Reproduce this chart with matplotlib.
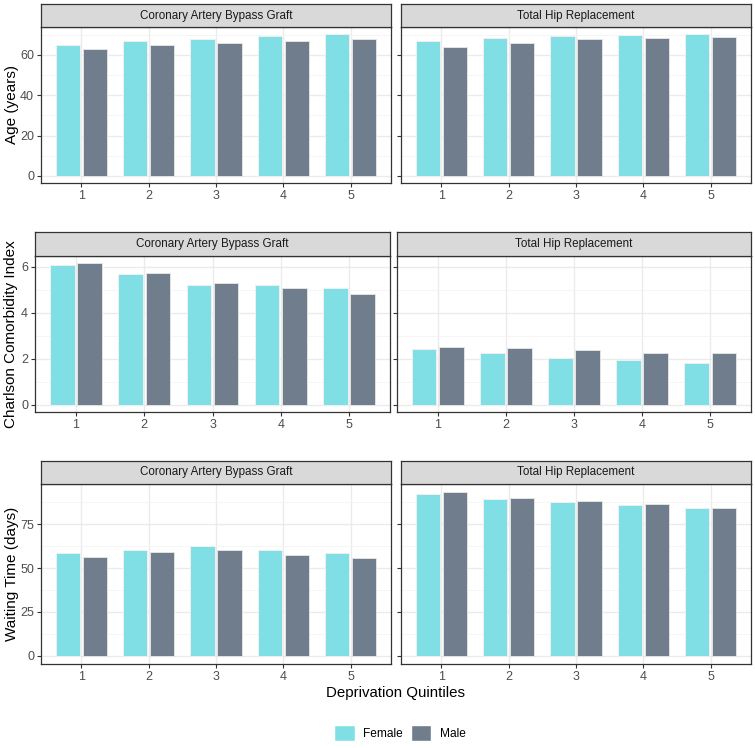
import numpy as np
import matplotlib.pyplot as plt
from matplotlib.patches import Patch

plt.rcParams['font.family'] = ['Liberation Sans', 'DejaVu Sans']

# === DATA ===
quintiles = [1, 2, 3, 4, 5]
procedures = ["Coronary Artery Bypass Graft", "Total Hip Replacement"]

age_cabg_f = [65.0, 67.0, 68.0, 69.3, 70.1]
age_cabg_m = [63.0, 64.9, 66.0, 67.0, 67.7]
age_thr_f = [66.8, 68.3, 69.3, 69.8, 70.3]
age_thr_m = [64.0, 66.0, 67.7, 68.2, 68.8]

cci_cabg_f = [6.10, 5.71, 5.23, 5.20, 5.07]
cci_cabg_m = [6.17, 5.72, 5.32, 5.08, 4.84]
cci_thr_f = [2.44, 2.28, 2.06, 1.96, 1.84]
cci_thr_m = [2.50, 2.48, 2.38, 2.27, 2.24]

wait_cabg_f = [58.3, 60.4, 62.8, 60.0, 58.3]
wait_cabg_m = [56.2, 59.1, 60.2, 57.4, 55.9]
wait_thr_f = [92.0, 89.4, 87.8, 85.8, 84.1]
wait_thr_m = [93.2, 89.8, 88.2, 86.4, 84.4]

# === CONFIG ===
FEMALE = "#7FDFE5"
MALE = "#6F7D8C"
W, H = 755, 748

rows = [
    ("Age (years)", [(age_cabg_f, age_cabg_m), (age_thr_f, age_thr_m)],
     [0, 20, 40, 60], [10, 30, 50, 70]),
    ("Charlson Comorbidity Index", [(cci_cabg_f, cci_cabg_m), (cci_thr_f, cci_thr_m)],
     [0, 2, 4, 6], [1, 3, 5]),
    ("Waiting Time (days)", [(wait_cabg_f, wait_cabg_m), (wait_thr_f, wait_thr_m)],
     [0, 25, 50, 75], [12.5, 37.5, 62.5, 87.5]),
]

# panel boxes in pixels: (left, right) per column, (strip_top, panel_top, panel_bottom) per row
cols_px = [[(41, 391), (401, 751)], [(35, 390), (397, 751)], [(41, 391), (401, 751)]]
rows_px = [(4, 27, 183), (232, 256, 412), (461, 484, 664)]
ylab_x = [12, 11, 12]

fig = plt.figure(figsize=(W / 100, H / 100), dpi=100)


def box(l, t, r, b):
    return [l / W, 1 - b / H, (r - l) / W, (b - t) / H]


x = np.array(quintiles)
bw = 0.36
off = 0.2
for ri, (ylab, data, majors, minors) in enumerate(rows):
    st, pt, pb = rows_px[ri]
    ymax = max(max(f + m) for f, m in data)
    for ci, (f, m) in enumerate(data):
        l, r = cols_px[ri][ci]
        ax = fig.add_axes(box(l, pt, r, pb))
        ax.bar(x - off, f, bw, color=FEMALE, edgecolor="#f0f0f0", linewidth=0.7, zorder=3)
        ax.bar(x + off, m, bw, color=MALE, edgecolor="#e3e3e3", linewidth=0.7, zorder=3)
        ax.set_xlim(0.4, 5.6)
        ax.set_ylim(-0.05 * ymax, 1.05 * ymax)
        ax.set_xticks(quintiles)
        ax.set_yticks(majors)
        ax.set_yticks(minors, minor=True)
        ax.grid(True, which="major", color="#EBEBEB", linewidth=1.0, zorder=0)
        ax.grid(True, which="minor", axis="y", color="#F4F4F4", linewidth=0.6, zorder=0)
        ax.set_axisbelow(True)
        for s in ax.spines.values():
            s.set_color("#333333")
            s.set_linewidth(0.9)
        ax.tick_params(which="major", length=3, width=0.8, color="#333333",
                       labelcolor="#4D4D4D", labelsize=9, pad=2)
        ax.tick_params(which="minor", length=0)
        if ci == 0:
            fig.text(ylab_x[ri] / W, 1 - (pt + pb) / 2 / H, ylab, rotation=90,
                     ha="center", va="center", fontsize=11, color="black")
        else:
            ax.set_yticklabels([])

        # strip
        sax = fig.add_axes(box(l, st, r, pt))
        sax.set_facecolor("#D9D9D9")
        sax.set_xticks([])
        sax.set_yticks([])
        for s in sax.spines.values():
            s.set_color("#333333")
            s.set_linewidth(0.9)
        sax.text(0.5, 0.5, procedures[ci], ha="center", va="center",
                 fontsize=8.4, color="#1A1A1A", transform=sax.transAxes)

fig.text(396 / W, 1 - 693 / H, "Deprivation Quintiles", ha="center", va="center", fontsize=10.8)

handles = [Patch(facecolor=FEMALE, edgecolor="white", label="Female"),
           Patch(facecolor=MALE, edgecolor="white", label="Male")]
fig.legend(handles=handles, loc="center", bbox_to_anchor=(400 / W, 1 - 733 / H), ncol=2,
           frameon=False, fontsize=8.6, handlelength=1.7, handleheight=1.7,
           columnspacing=0.7, handletextpad=0.7)

fig.savefig("out.png", dpi=100)
